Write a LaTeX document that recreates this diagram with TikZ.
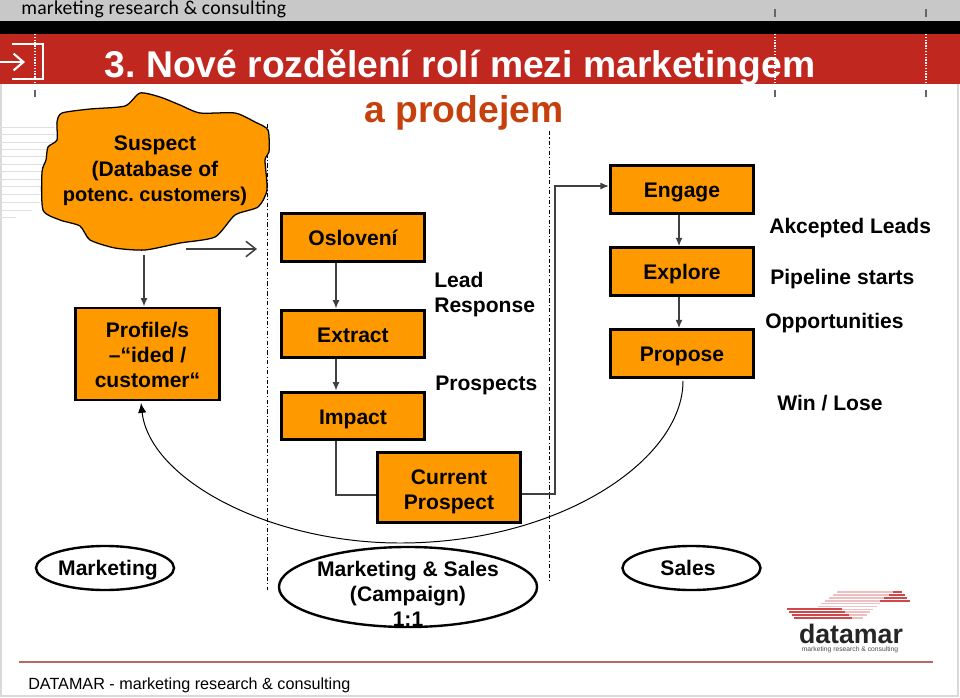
\documentclass[tikz,border=0pt]{standalone}
\usepackage{fontspec}
\setmainfont{Liberation Sans}
\newfontfamily\headfont[LetterSpace=1.4]{Carlito}
\usetikzlibrary{arrows.meta,shapes.geometric}
\definecolor{boxorange}{HTML}{FF9900}
\definecolor{bandred}{HTML}{C0271F}
\definecolor{headgray}{HTML}{C8C8C8}
\definecolor{titlered}{HTML}{C5400C}
\definecolor{footline}{HTML}{B56A66}
\definecolor{wiregray}{HTML}{404040}
\definecolor{logored}{HTML}{D0484C}
\definecolor{logopale}{HTML}{EDBFC0}
\frenchspacing

\begin{document}
\begin{tikzpicture}[x=0.025cm, y=-0.025cm, node distance=2.05cm,
  labelfont/.style={font=\fontsize{15}{18}\selectfont\bfseries},
  orangebox/.style={draw=black,line width=2.1pt,fill=boxorange,minimum width=3.58cm,minimum height=1.19cm,align=center,inner sep=0pt,labelfont},
  boxnode/.style={orangebox,execute at begin node={\rule{0pt}{16pt}},execute at end node={\rule[-4pt]{0pt}{0pt}}},
  notetext/.style={anchor=base west,align=left,inner sep=0pt,labelfont},
  roleoval/.style={draw=black,line width=1.7pt,ellipse,inner sep=0pt,minimum width=3.45cm,minimum height=1.1cm},
  rolelabel/.style={anchor=base,inner sep=0pt,align=center,labelfont},
  wire/.style={draw=wiregray,line width=1.1pt,-{Latex[length=6pt,width=5pt]}},
  divider/.style={black,line width=0.6pt,dash pattern=on 3pt off 1.6pt on 0.8pt off 1.6pt}]
  \useasboundingbox (0,0) rectangle (960,697);
  \fill[white] (0,0) rectangle (960,697);
  \draw[black!15,line width=0.8pt] (1,0) -- (1,696) -- (958,696) -- (958,0);

  % header bands
  \fill[headgray] (0,0) rectangle (960,21);
  \fill[black] (0,21) rectangle (960,34);
  \fill[bandred] (0,34) rectangle (960,84);
  \node (headline) [anchor=base west,inner sep=0pt,font=\fontsize{14}{16}\headfont,text=black] at (21,14) {marketing research \& consulting};
  \draw[white,line width=1.5pt] (12,44) -- (43,44) -- (43,79) -- (12,79);
  \coordinate (iconin) at (0,62);
  \coordinate (icontip) at (25,62);
  \draw[white,line width=1.5pt,-{Straight Barb[length=7pt,width=12pt]}] (iconin) -- (icontip);

  % guide ticks
  \foreach \tickx in {35,775,926} {
    \draw[white,line width=1pt,densely dotted] (\tickx,34) -- (\tickx,84);
    \draw[black!60,line width=0.8pt] (\tickx,90) -- (\tickx,97);
  }
  \foreach \tickx in {775,926} \draw[black!60,line width=0.8pt] (\tickx,9) -- (\tickx,17);

  % titles
  \node (title) [anchor=base,text=white,inner sep=0pt,font=\fontsize{26.5}{30}\selectfont\bfseries] at (460,77) {3. Nové rozdělení rolí mezi marketingem};
  \node (subtitle) [anchor=base,text=titlered,inner sep=0pt,font=\fontsize{26.5}{30}\selectfont\bfseries] at (464,122) {a prodejem};

  % faint stripes behind the cloud
  \foreach \stripey/\stripelen in {127/55,134/55,142/55,149/50,156/50,164/50,171/50,179/45,186/45,194/45,202/40,210/32,217/16}
    \draw[black!12,line width=0.6pt] (0,\stripey) -- (\stripelen,\stripey);

  % dividers
  \coordinate (divatop) at (267,124);
  \coordinate (divabot) at (267,590);
  \coordinate (divbtop) at (549,131);
  \coordinate (divbbot) at (549,581);
  \draw[divider] (divatop) -- (divabot);
  \draw[divider] (divbtop) -- (divbbot);

  % cloud
  \draw[black,line width=0.9pt,fill=boxorange] plot[smooth cycle,tension=0.4] coordinates {
    (140,93) (125,106) (90,109) (62,113) (57,122) (57,140) (48,147) (46,160) (42,172) (43,210)
    (60,220) (80,226) (90,240) (115,248) (145,250) (180,243) (215,237) (235,215) (258,207) (267,190)
    (265,160) (269,152) (268,130) (255,122) (235,113) (200,113) (180,105) (160,97)};
  \node (suspect) [align=center,inner sep=0pt,labelfont] at (155,171) {Suspect\\(Database of\\{\fontsize{14.2}{18}\selectfont potenc. customers)}};

  % marketing column
  \node (profile) [orangebox,minimum height=2.3cm] at (147.5,354) {\rule{0pt}{12pt}Profile/s\\–“ided /\\customer“};
  \coordinate (suspectfoot) at (144,255);
  \draw[wire] (suspectfoot) -- (suspectfoot |- profile.north);
  \coordinate (freestart) at (186,249);
  \coordinate (freeend) at (257,249);
  \draw[wiregray,line width=1.1pt,-{Straight Barb[length=7pt,width=11pt]}] (freestart) -- (freeend);

  % campaign column
  \node (osloveni) [boxnode] at (353,237.5) {Oslovení};
  \node (extract) [boxnode,below of=osloveni,yshift=-0.36cm] {Extract};
  \node (impact) [boxnode,below of=extract] {Impact};
  \node (current) [orangebox,minimum height=1.73cm] at (449,487.5) {\rule{0pt}{16.5pt}Current\\Prospect};
  \coordinate (wirex) at (336,300);
  \draw[wire] (wirex |- osloveni.south) -- (wirex |- extract.north);
  \draw[wire] (wirex |- extract.south) -- (wirex |- impact.north);
  \coordinate (currentin) at (current.west |- 0,495);
  \draw[wiregray,line width=0.9pt] (wirex |- impact.south) |- (currentin);

  % sales column
  \node (engage) [boxnode] at (682,189.5) {Engage};
  \node (explore) [boxnode,below of=engage] {Explore};
  \node (propose) [boxnode,below of=explore] {Propose};
  \coordinate (wirey) at (679,300);
  \draw[wire] (wirey |- engage.south) -- (wirey |- explore.north);
  \draw[wire] (wirey |- explore.south) -- (wirey |- propose.north);
  \coordinate (currentout) at (current.east |- 0,494);
  \coordinate (risex) at (555,494);
  \coordinate (engagein) at (engage.west |- 0,186);
  \draw[wire,line width=0.9pt] (currentout) -- (risex) |- (engagein);
  \coordinate (proposefoot) at (683,381);
  \coordinate (profilefoot) at (141,403);
  \draw[black,line width=0.7pt,-{Latex[length=7pt,width=6pt]}] (proposefoot) .. controls (683,460) and (560,543) .. (400,543)
    .. controls (270,543) and (150,480) .. (profilefoot);

  % stage labels
  \node (leadresponse) [notetext,anchor=west] at (434,294.5) {Lead\\Response};
  \node (prospects) [notetext] at (435,390) {Prospects};
  \node (akcepted) [notetext] at (769,233) {Akcepted Leads};
  \node (pipeline) [notetext] at (770,284) {Pipeline starts};
  \node (opportunities) [notetext] at (765,328) {Opportunities};
  \node (winlose) [notetext] at (777,410) {Win / Lose};

  % role ovals
  \node (marketingoval) [roleoval] at (105,568) {};
  \node (marketing) [rolelabel] at (108,575) {Marketing};
  \node (campaignoval) [roleoval,minimum width=6.45cm,minimum height=2cm] at (408,587) {};
  \node (campaign) [align=center,inner sep=0pt,labelfont] at (408,594) {Marketing \& Sales\\(Campaign)\\1:1};
  \node (salesoval) [roleoval] at (691.5,568) {};
  \node (sales) [rolelabel] at (688,575) {Sales};

  % logo
  \foreach \logoi in {0,1,2,3,4,5,6,7,8,9} {
    \pgfmathsetmacro{\logoy}{592+2.9*\logoi}
    \draw[logopale,line width=1.2pt] ({837-3.9*\logoi},\logoy) -- ({893-3.3*\logoi},\logoy);
  }
  \foreach \logoi in {0,1,2,3} {
    \pgfmathsetmacro{\logoy}{609.4+2.9*\logoi}
    \draw[logored,line width=1.5pt] ({787+2.3*\logoi},\logoy) -- ({842+3.3*\logoi},\logoy);
    \pgfmathsetmacro{\logoyy}{592+2.9*\logoi}
    \draw[logored,line width=1.3pt] ({893-4.3*\logoi},\logoyy) -- ({902+2.7*\logoi},\logoyy);
  }
  \node (logoname) [anchor=base,text=black!85,inner sep=0pt,font=\fontsize{19}{20}\selectfont\bfseries] at (851,643) {datamar};
  \node (logotag) [anchor=base,text=black!70,inner sep=0pt,font=\fontsize{4.8}{5}\selectfont] at (850,651) {marketing research \& consulting};

  % footer
  \coordinate (footstart) at (19,662);
  \coordinate (footend) at (933,662);
  \draw[footline,line width=1pt] (footstart) -- (footend);
  \node (footer) [anchor=base west,inner sep=0pt,font=\fontsize{11.5}{14}\selectfont] at (28,689) {DATAMAR - marketing research \& consulting};
\end{tikzpicture}
\end{document}
